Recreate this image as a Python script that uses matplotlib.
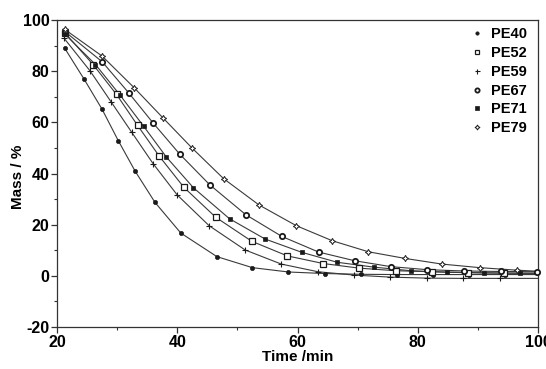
import matplotlib
matplotlib.use("Agg")
import matplotlib.pyplot as plt
from matplotlib.ticker import MultipleLocator

plt.rcParams['font.family'] = ['Liberation Sans', 'DejaVu Sans']
plt.rcParams['axes.unicode_minus'] = False

# Data
pe40_x = [21.3, 24.5, 27.5, 30.2, 33.0, 36.3, 40.6, 46.6, 52.5, 58.5, 64.5, 70.5, 76.5, 82.5, 88.5, 94.5, 100]
pe40_y = [88.9, 76.9, 65.1, 52.8, 40.9, 28.7, 16.7, 7.5, 3.2, 1.5, 0.9, 0.6, 0.5, 0.5, 0.5, 0.5, 0.5]

pe52_x = [21.3, 26.0, 29.9, 33.4, 37.0, 41.1, 46.4, 52.4, 58.3, 64.3, 70.3, 76.3, 82.3, 88.3, 94.3, 100]
pe52_y = [95.0, 82.6, 70.9, 58.8, 46.8, 34.6, 22.9, 13.5, 7.8, 4.8, 3.0, 2.0, 1.6, 1.3, 1.1, 1.0]

pe59_x = [21.2, 25.5, 29.0, 32.4, 36.0, 40.0, 45.3, 51.3, 57.3, 63.4, 69.4, 75.4, 81.5, 87.5, 93.6, 100]
pe59_y = [92.8, 80.1, 68.0, 56.2, 43.8, 31.6, 19.6, 10.1, 4.6, 1.6, 0.3, -0.5, -0.9, -1.0, -1.0, -1.0]

pe67_x = [21.3, 27.5, 31.9, 36.0, 40.4, 45.4, 51.4, 57.4, 63.5, 69.5, 75.5, 81.6, 87.7, 93.8, 99.8]
pe67_y = [95.5, 83.7, 71.6, 59.7, 47.6, 35.6, 23.9, 15.4, 9.3, 5.9, 3.6, 2.4, 1.9, 1.7, 1.6]

pe71_x = [21.3, 26.4, 30.5, 34.4, 38.2, 42.7, 48.7, 54.6, 60.7, 66.6, 72.7, 78.8, 84.9, 91.0, 97.0, 100]
pe71_y = [94.5, 82.6, 70.6, 58.5, 46.4, 34.4, 22.3, 14.4, 9.2, 5.3, 3.4, 2.0, 1.4, 1.1, 1.0, 1.0]

pe79_x = [21.3, 27.5, 32.8, 37.6, 42.4, 47.7, 53.6, 59.8, 65.8, 71.8, 77.9, 84.0, 90.3, 96.5, 100]
pe79_y = [96.3, 85.9, 73.6, 61.8, 50.1, 38.0, 27.7, 19.6, 13.7, 9.4, 6.8, 4.6, 3.2, 2.2, 1.8]

labels = ["PE40", "PE52", "PE59", "PE67", "PE71", "PE79"]

fig = plt.figure(figsize=(5.46, 3.69), dpi=100)
ax = fig.add_axes([57/546, 1-327/369, (538-57)/546, (327-20)/369])

lc = '#3a3a3a'
mc = '#1a1a1a'
styles = [
    dict(marker='o', ms=3.0, mfc=mc, mec=mc, mew=0.5),
    dict(marker='s', ms=3.8, mfc='white', mec=mc, mew=0.9),
    dict(marker='+', ms=4.5, mfc=mc, mec=mc, mew=0.8),
    dict(marker='o', ms=3.8, mfc='white', mec=mc, mew=1.3),
    dict(marker='s', ms=3.4, mfc=mc, mec=mc, mew=0.5),
    dict(marker=(4, 1, 0), ms=4.5, mfc='white', mec=mc, mew=0.7),
]
series = [(pe40_x, pe40_y), (pe52_x, pe52_y), (pe59_x, pe59_y),
          (pe67_x, pe67_y), (pe71_x, pe71_y), (pe79_x, pe79_y)]

handles = []
for (xs, ys), st, lab in zip(series, styles, labels):
    ax.plot(xs, ys, color=lc, lw=0.8, ls='-', marker='None', zorder=2)
    mx = xs[:-1] if xs[-1] >= 100 else xs
    my = ys[:-1] if xs[-1] >= 100 else ys
    ax.plot(mx, my, ls='None', zorder=3, clip_on=False, **st)
    h, = ax.plot([], [], ls='None', **st)
    handles.append(h)

ax.set_xlim(20, 100)
ax.set_ylim(-20, 100)
ax.xaxis.set_major_locator(MultipleLocator(20))
ax.xaxis.set_minor_locator(MultipleLocator(10))
ax.yaxis.set_major_locator(MultipleLocator(20))
ax.yaxis.set_minor_locator(MultipleLocator(10))
ax.tick_params(which='major', direction='out', length=4, width=0.9, color='#333333',
               labelsize=11.5, pad=1.5)
ax.tick_params(which='minor', direction='out', length=2.5, width=0.8, color='#333333')
for lab in ax.get_xticklabels() + ax.get_yticklabels():
    lab.set_fontweight('bold')
for sp in ax.spines.values():
    sp.set_linewidth(0.9)
    sp.set_color('#333333')

ax.set_xlabel('Time /min', fontsize=11, fontweight='bold', labelpad=0)
ax.set_ylabel('Mass / %', fontsize=11, fontweight='bold')
ax.yaxis.set_label_coords(-0.066, 0.49)

leg = ax.legend(handles, labels, loc='upper right', bbox_to_anchor=(0.995, 1.005),
                frameon=False, handlelength=0.5, handletextpad=0.7,
                labelspacing=0.33, markerscale=0.8,
                prop={'weight': 'bold', 'size': 10.5}, borderaxespad=0.2)

fig.savefig('out.png', dpi=100)
